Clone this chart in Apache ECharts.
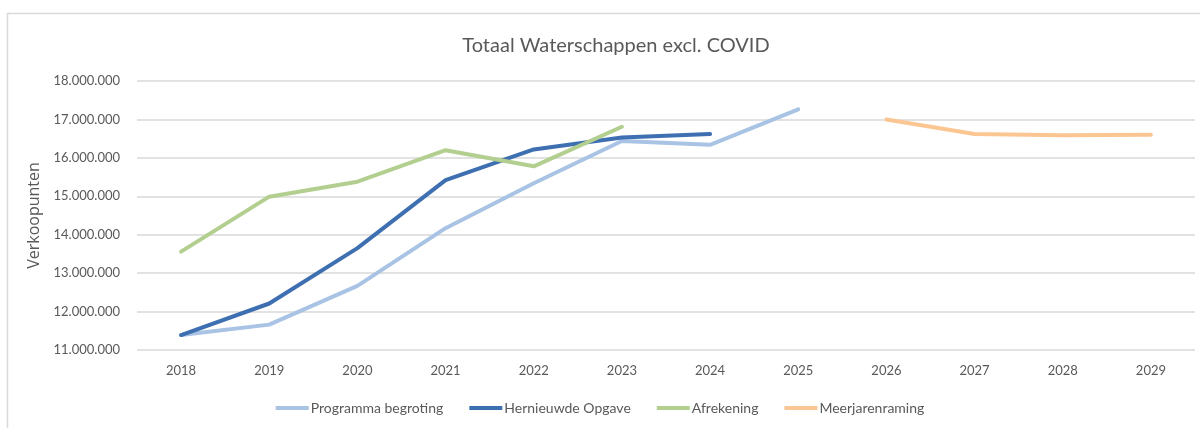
<!DOCTYPE html>
<html><head><meta charset="utf-8">
<script src="https://cdn.jsdelivr.net/npm/echarts@6/dist/echarts.min.js"></script>
<style>html,body{margin:0;padding:0;background:#fff}#c{width:1200px;height:428px}</style>
</head><body><div id="c"></div>
<script>
const years = ['2018','2019','2020','2021','2022','2023','2024','2025','2026','2027','2028','2029'];
const programmaBegroting = [11390000, 11660000, 12670000, 14170000, 15340000, 16440000, 16340000, 17260000, null, null, null, null];
const hernieuwdeOpgave  = [11390000, 12210000, 13650000, 15420000, 16220000, 16530000, 16620000, null, null, null, null, null];
const afrekening        = [13560000, 14990000, 15380000, 16200000, 15780000, 16810000, null, null, null, null, null, null];
const meerjarenraming   = [null, null, null, null, null, null, null, null, 17000000, 16620000, 16590000, 16600000];
const seriesNames = ['Programma begroting','Hernieuwde Opgave','Afrekening','Meerjarenraming'];
const colors = ['#A9C3E4','#3D6FB1','#B3CF8F','#FCC692'];
const FONT = 'Lato';

function fmt(v){ return String(Math.round(v)).replace(/\B(?=(\d{3})+(?!\d))/g,'.'); }

const chart = echarts.init(document.getElementById('c'), null, {renderer:'canvas'});
const dataArr = [programmaBegroting, hernieuwdeOpgave, afrekening, meerjarenraming];
chart.setOption({
  animation:false,
  backgroundColor:'#fff',
  title:{text:'Totaal Waterschappen excl. COVID', left:611, textAlign:'center', top:31,
    textStyle:{fontFamily:FONT, fontSize:20, fontWeight:'normal', color:'#595959'}},
  graphic:[{type:'rect', shape:{x:7.5,y:13.5,width:1200,height:420}, style:{fill:'none', stroke:'#D9D9D9', lineWidth:1.5}, silent:true}],
  legend:{bottom:8, left:'center', itemWidth:33, itemHeight:4, itemGap:26, icon:'rect',
    textStyle:{fontFamily:FONT, fontSize:14, color:'#595959', padding:[0,0,0,-3]},
    data:seriesNames},
  grid:{left:137, right:5, top:81, bottom:78},
  xAxis:{type:'category', data:years, boundaryGap:true,
    axisLine:{show:false}, axisTick:{show:false},
    axisLabel:{fontFamily:FONT, fontSize:13, color:'#595959', margin:14}},
  yAxis:{type:'value', min:11000000, max:18000000, interval:1000000,
    name:'Verkoopunten', nameLocation:'middle', nameGap:90, nameRotate:90,
    nameTextStyle:{fontFamily:'Open Sans', fontSize:16, color:'#595959'},
    axisLine:{show:false}, axisTick:{show:false},
    axisLabel:{fontFamily:FONT, fontSize:13, color:'#595959', margin:17, formatter:fmt},
    splitLine:{lineStyle:{color:'#D9D9D9', width:1.5}}},
  series: seriesNames.map((n,i)=>({
    name:n, type:'line', data:dataArr[i], symbol:'none', connectNulls:false,
    lineStyle:{color:colors[i], width:4, cap:'round', join:'round'},
    itemStyle:{color:colors[i]}, z: i===0?3:(i===1?4:(i===2?5:2))
  }))
});
</script></body></html>
